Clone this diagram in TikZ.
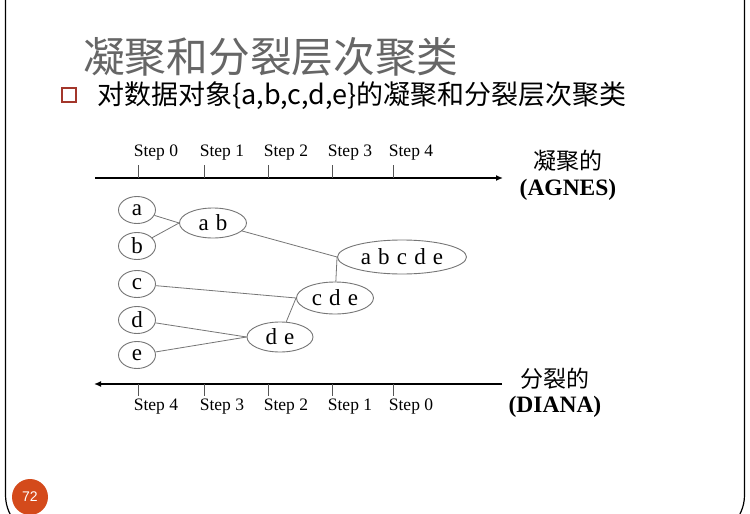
\documentclass[tikz,border=0pt]{standalone}
\usepackage{fontspec}
\setmainfont{Liberation Serif}
\newfontfamily\cjk{Noto Sans CJK SC}
\newfontfamily\pagefont{Liberation Sans}
\newfontfamily\nodefont[WordSpace=1.25]{Liberation Serif}
\usetikzlibrary{shapes.geometric,arrows.meta}
\definecolor{nodegray}{HTML}{767676}
\definecolor{titlegray}{HTML}{666666}
\definecolor{bulletred}{HTML}{A3362B}
\definecolor{pageorange}{HTML}{D44A1B}
\definecolor{tickgray}{HTML}{555555}
\begin{document}
\begin{tikzpicture}[x=1pt,y=-1pt,
  clus/.style={ellipse,draw=nodegray,line width=0.9pt,inner sep=0pt,
     font=\nodefont\fontsize{23}{23}\selectfont},
  link/.style={draw=nodegray,line width=0.8pt},
  axisline/.style={draw=black,line width=1.4pt},
  tickline/.style={draw=tickgray,line width=0.8pt},
  steplbl/.style={inner sep=0pt,font=\fontsize{17.5}{17.5}\selectfont},
  sidecjk/.style={inner sep=0pt,font=\cjk\fontsize{23}{23}\selectfont},
  sidelat/.style={inner sep=0pt,font=\bfseries\fontsize{23.5}{23.5}\selectfont}]
\useasboundingbox (0,0) rectangle (750,514);
\fill[white] (0,0) rectangle (750,514);
% frame
\begin{scope}
\clip (0,0) rectangle (750,514);
\draw[black,line width=1.2pt,rounded corners=42pt] (5.5,-60) rectangle (744.5,537);
\end{scope}
% page number
\node[circle,fill=pageorange,minimum size=36pt,inner sep=0pt,text=white,
  font=\pagefont\fontsize{14}{14}\selectfont] (pg) at (30,497) {72};
% title
\node[anchor=west,inner sep=0pt,text=titlegray,font=\cjk\fontsize{41.7}{41.7}\selectfont]
  (title) at (83,57) {凝聚和分裂层次聚类};
% bullet + subtitle
\node[draw=bulletred,line width=2.4pt,minimum size=13.6pt,inner sep=0pt] (bul) at (69,95) {};
\node[anchor=west,inner sep=0pt,font=\cjk\fontsize{27}{27}\selectfont]
  (sub) at (97,96) {对数据对象\{a,b,c,d,e\}的凝聚和分裂层次聚类};
% top axis
\coordinate (topL) at (95,178);
\coordinate (topR) at (503,178);
\draw[axisline,-{Latex[length=7pt,width=6pt]}] (topL) -- (topR);
\foreach \x/\s [count=\i] in {138/0,204/1,268/2,332/3,393/4}{
  \coordinate (tt\i) at (\x,178);
  \coordinate (tu\i) at (\x,165);
  \draw[tickline] (tt\i) -- (tu\i);
  \node[steplbl] (ts\i) at (\x+18,153) {Step \s};
}
\node[sidecjk] (agg) at (568,161) {凝聚的};
\node[sidelat] (agnes) at (568,190) {(AGNES)};
% bottom axis
\coordinate (botL) at (94,384);
\coordinate (botR) at (502,384);
\draw[axisline,-{Latex[length=7pt,width=6pt]}] (botR) -- (botL);
\foreach \x/\s [count=\i] in {138/4,204/3,268/2,332/1,393/0}{
  \coordinate (bt\i) at (\x,384);
  \coordinate (bu\i) at (\x,396);
  \draw[tickline] (bt\i) -- (bu\i);
  \node[steplbl] (bs\i) at (\x+18,407) {Step \s};
}
\node[sidecjk] (div) at (555,379) {分裂的};
\node[sidelat] (diana) at (555,407) {(DIANA)};
% clusters
\node[clus,minimum width=37pt,minimum height=27pt] (a) at (137,210) {a};
\node[clus,minimum width=37pt,minimum height=27pt] (b) at (137,246) {b};
\node[clus,minimum width=37pt,minimum height=27pt] (c) at (137,284) {c};
\node[clus,minimum width=37pt,minimum height=27pt] (d) at (137,320) {d};
\node[clus,minimum width=37pt,minimum height=27pt] (e) at (137,355) {e};
\node[clus,minimum width=67pt,minimum height=30pt] (ab) at (213,223) {a b};
\node[clus,minimum width=129pt,minimum height=34pt] (abcde) at (402,257) {a b c d e};
\node[clus,minimum width=77pt,minimum height=32pt] (cde) at (335,298) {c d e};
\node[clus,minimum width=66pt,minimum height=30pt] (de) at (280,337) {d e};
% links
\draw[link] (a) -- (ab.west);
\draw[link] (b) -- (ab.west);
\draw[link] (ab) -- (abcde.west);
\draw[link] (cde) -- (abcde.west);
\draw[link] (c) -- (cde.west);
\draw[link] (de) -- (cde.west);
\draw[link] (d) -- (de.west);
\draw[link] (e) -- (de.west);
\end{tikzpicture}
\end{document}
